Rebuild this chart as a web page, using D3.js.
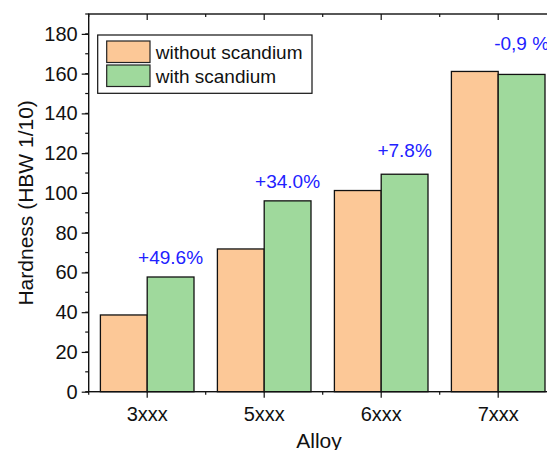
<!DOCTYPE html>
<html>
<head>
<meta charset="utf-8">
<script src="https://cdn.jsdelivr.net/npm/d3@7"></script>
<style>
  body { margin: 0; background: #fff; }
  svg { display: block; font-family: 'Liberation Sans', Arial, sans-serif; }
</style>
</head>
<body>
<div class="chart"></div>
<script>
let alloys = ['3xxx', '5xxx', '6xxx', '7xxx'];
let series = ['without scandium', 'with scandium'];
let without = [38.6, 71.8, 101.2, 161.1];
let withSc = [57.7, 96.0, 109.4, 159.6];
let changeLabels = ['+49.6%', '+34.0%', '+7.8%', '-0,9 %'];
let labelAt = [64, 102.7, 118, 172];   // hardness value where each label sits
let yTicks = [0, 20, 40, 60, 80, 100, 120, 140, 160, 180];

let w = 547, h = 450;
let plotL = 88.7, plotT = 14, plotB = 391.7, plotR = 556.7;
let colors = ['#fcc897', '#9fd99c'];

let svg = d3.select('.chart').append('svg').attr('width', w).attr('height', h);

/* ==== SCALES ==== */

let xScale = d3.scaleBand()
    .domain(alloys)
    .range([plotL, plotR])
    .padding(0);

let bw = xScale.bandwidth();

let xSub = d3.scaleBand()
    .domain(series)
    .range([0.1 * bw, 0.9 * bw]);

let yScale = d3.scaleLinear()
    .domain([0, 190])
    .range([plotB, plotT]);

/* ==== BARS ==== */

let groups = svg.selectAll('.group')
    .data(alloys)
    .enter().append('g')
    .attr('class', 'group')
    .attr('transform', function (d) { return 'translate(' + xScale(d) + ',0)'; });

groups.selectAll('rect')
    .data(function (d, i) {
        return [{ s: series[0], v: without[i] }, { s: series[1], v: withSc[i] }];
    })
    .enter().append('rect')
    .attr('x', function (d) { return xSub(d.s); })
    .attr('width', xSub.bandwidth())
    .attr('y', function (d) { return yScale(d.v); })
    .attr('height', function (d) { return plotB - yScale(d.v); })
    .attr('fill', function (d, i) { return colors[i]; })
    .attr('stroke', '#111')
    .attr('stroke-width', 1.3);

/* ==== CHANGE LABELS ==== */

svg.selectAll('.change')
    .data(alloys)
    .enter().append('text')
    .attr('class', 'change')
    .attr('x', function (d) { return xScale(d) + xSub(series[1]) + xSub.bandwidth() / 2; })
    .attr('y', function (d, i) { return yScale(labelAt[i]); })
    .attr('text-anchor', 'middle')
    .attr('fill', '#2121ff')
    .attr('font-size', 19)
    .text(function (d, i) { return changeLabels[i]; });

/* ==== AXES ==== */

let minorY = d3.range(0, 191, 10);
let minorX = d3.range(0, alloys.length + 1).map(function (i) { return plotL + i * bw; });

let axisY = svg.append('g')
    .attr('transform', 'translate(' + plotL + ',0)')
    .call(d3.axisLeft(yScale).tickValues(yTicks).tickSize(7).tickPadding(4).tickSizeOuter(0));
axisY.select('.domain').remove();
axisY.selectAll('text').attr('font-size', 20).attr('fill', '#111');
axisY.selectAll('line').attr('stroke', '#111').attr('stroke-width', 1.2);
axisY.attr('font-family', null);

svg.selectAll('.minorY')
    .data(minorY)
    .enter().append('line')
    .attr('x1', plotL - 3.5).attr('x2', plotL)
    .attr('y1', function (d) { return yScale(d); })
    .attr('y2', function (d) { return yScale(d); })
    .attr('stroke', '#111').attr('stroke-width', 1.2);

let axisX = svg.append('g')
    .attr('transform', 'translate(0,' + plotB + ')')
    .call(d3.axisBottom(xScale).tickSize(6).tickPadding(9).tickSizeOuter(0));
axisX.select('.domain').remove();
axisX.selectAll('text').attr('font-size', 20).attr('fill', '#111');
axisX.selectAll('line').attr('stroke', '#111').attr('stroke-width', 1.2);
axisX.attr('font-family', null);

// top ticks point inward
svg.selectAll('.topTick')
    .data(alloys)
    .enter().append('line')
    .attr('x1', function (d) { return xScale(d) + bw / 2; })
    .attr('x2', function (d) { return xScale(d) + bw / 2; })
    .attr('y1', plotT).attr('y2', plotT + 6)
    .attr('stroke', '#111').attr('stroke-width', 1.2);

svg.selectAll('.minorTop')
    .data(minorX)
    .enter().append('line')
    .attr('x1', function (d) { return d; })
    .attr('x2', function (d) { return d; })
    .attr('y1', plotT).attr('y2', plotT + 3)
    .attr('stroke', '#111').attr('stroke-width', 1.2);

svg.selectAll('.minorBottom')
    .data(minorX)
    .enter().append('line')
    .attr('x1', function (d) { return d; })
    .attr('x2', function (d) { return d; })
    .attr('y1', plotB).attr('y2', plotB + 3)
    .attr('stroke', '#111').attr('stroke-width', 1.2);

// frame
svg.append('rect')
    .attr('x', plotL).attr('y', plotT)
    .attr('width', plotR - plotL).attr('height', plotB - plotT)
    .attr('fill', 'none')
    .attr('stroke', '#111')
    .attr('stroke-width', 1.4);

/* ==== TITLES ==== */

svg.append('text')
    .attr('x', 319)
    .attr('y', 448)
    .attr('text-anchor', 'middle')
    .attr('font-size', 21)
    .attr('fill', '#111')
    .text('Alloy');

svg.append('text')
    .attr('transform', 'translate(33,' + (plotB + plotT) / 2 + ') rotate(-90)')
    .attr('text-anchor', 'middle')
    .attr('font-size', 21)
    .attr('fill', '#111')
    .text('Hardness (HBW 1/10)');

/* ==== LEGEND ==== */

let legend = svg.append('g').attr('transform', 'translate(97.7,35)');
legend.append('rect')
    .attr('width', 214.3).attr('height', 58.3)
    .attr('fill', '#fff').attr('stroke', '#111').attr('stroke-width', 1.2);

let item = legend.selectAll('.item')
    .data(series)
    .enter().append('g')
    .attr('transform', function (d, i) { return 'translate(9,' + (6 + i * 24) + ')'; });

item.append('rect')
    .attr('width', 43.3).attr('height', 21.5)
    .attr('fill', function (d, i) { return colors[i]; })
    .attr('stroke', '#222').attr('stroke-width', 1.2);

item.append('text')
    .attr('x', 49)
    .attr('y', 17.5)
    .attr('font-size', 19)
    .attr('fill', '#111')
    .text(function (d) { return d; });
</script>
</body>
</html>
